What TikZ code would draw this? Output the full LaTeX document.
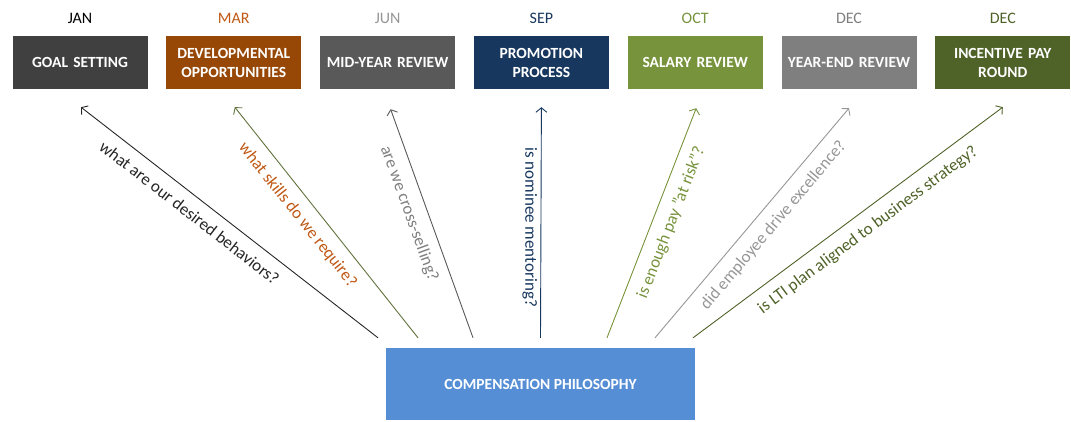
\documentclass[tikz,border=0pt]{standalone}
\usepackage{fontspec}
\setmainfont{Carlito}
\usetikzlibrary{arrows.meta, positioning}
\definecolor{charcoal}{RGB}{64, 64, 64}
\definecolor{rustbrown}{RGB}{151, 71, 6}
\definecolor{rustlight}{RGB}{192, 88, 20}
\definecolor{slategray}{RGB}{89, 89, 89}
\definecolor{lightgray}{RGB}{150, 150, 150}
\definecolor{navyblue}{RGB}{23, 55, 94}
\definecolor{olivegreen}{RGB}{119, 147, 60}
\definecolor{midgray}{RGB}{127, 127, 127}
\definecolor{darkolive}{RGB}{79, 98, 40}
\definecolor{skyblue}{RGB}{85, 142, 213}
\tikzset{
  >=Straight Barb,
  qarrow/.style={-{Straight Barb[length=4.5pt, width=11pt]}, line width=0.9pt}
}

\begin{document}
\begin{tikzpicture}[x=1pt, y=1pt,
    stage/.style={minimum width=135pt, minimum height=53pt, text width=133pt, inner sep=0pt,
      align=center, text=white, font=\fontsize{15.5}{19}\selectfont\bfseries},
    month/.style={font=\fontsize{16}{18}\selectfont, above=9pt of #1},
    question/.style={font=\fontsize{17}{20}\selectfont}]
    \useasboundingbox (0,0) rectangle (1071,421);
    % Etapas del ciclo anual
    \node (goal) [stage, fill=charcoal] at (80,358.5) {GOAL SETTING};
    \node (dev) [stage, fill=rustbrown, right=18.4pt of goal] {DEVELOPMENTAL\\OPPORTUNITIES};
    \node (mid) [stage, fill=slategray, right=18.4pt of dev] {MID-YEAR REVIEW};
    \node (promo) [stage, fill=navyblue, right=18.4pt of mid] {PROMOTION\\PROCESS};
    \node (salary) [stage, fill=olivegreen, right=18.4pt of promo] {SALARY REVIEW};
    \node (yend) [stage, fill=midgray, right=18.4pt of salary] {YEAR-END REVIEW};
    \node (incent) [stage, fill=darkolive, right=18.4pt of yend] {INCENTIVE PAY\\ROUND};
    % Meses
    \node [month=goal, text=black] {JAN};
    \node [month=dev, text=rustlight] {MAR};
    \node [month=mid, text=lightgray] {JUN};
    \node [month=promo, text=navyblue] {SEP};
    \node [month=salary, text=olivegreen] {OCT};
    \node [month=yend, text=midgray] {DEC};
    \node [month=incent, text=darkolive] {DEC};
    % Filosofía de compensación
    \node (phil) [fill=skyblue, minimum width=309pt, minimum height=72pt, text=white,
      font=\fontsize{15.5}{19}\selectfont\bfseries] at (540.5,37) {COMPENSATION PHILOSOPHY};
    % Arranque y punta de cada flecha
    \coordinate (s1) at ([xshift=-162.5pt, yshift=10pt]phil.north);
    \coordinate (s2) at ([xshift=-122.5pt, yshift=10pt]phil.north);
    \coordinate (s3) at ([xshift=-67.5pt, yshift=10pt]phil.north);
    \coordinate (s4) at ([yshift=10pt]phil.north);
    \coordinate (s5) at ([xshift=66.5pt, yshift=10pt]phil.north);
    \coordinate (s6) at ([xshift=114.5pt, yshift=10pt]phil.north);
    \coordinate (s7) at ([xshift=152.5pt, yshift=10pt]phil.north);
    \coordinate (t1) at ([xshift=1pt, yshift=-18pt]goal.south);
    \coordinate (t2) at ([xshift=1pt, yshift=-18pt]dev.south);
    \coordinate (t3) at ([xshift=3pt, yshift=-20pt]mid.south);
    \coordinate (t4) at ([yshift=-18pt]promo.south);
    \coordinate (t5) at ([xshift=1pt, yshift=-19pt]salary.south);
    \coordinate (t6) at ([yshift=-19pt]yend.south);
    \coordinate (t7) at ([yshift=-18pt]incent.south);
    % Preguntas
    \draw[qarrow, black!85] (s1) -- (t1)
      node[question, pos=0.6, sloped, below=7pt, text=black!85] {what are our desired behaviors?};
    \draw[qarrow, darkolive!90] (s2) -- (t2)
      node[question, pos=0.58, sloped, below=7pt, text=rustlight] {what skills do we require?};
    \draw[qarrow, slategray] (s3) -- (t3)
      node[question, pos=0.57, sloped, below=7pt, text=midgray] {are we cross-selling?};
    \draw[qarrow, navyblue] (s4) -- (t4)
      node[question, pos=0.51, rotate=-90, below=7pt, text=navyblue] {is nominee mentoring?};
    \draw[qarrow, olivegreen] (s5) -- (t5)
      node[question, pos=0.53, sloped, below=7pt, text=olivegreen] {is enough pay "at risk"?};
    \draw[qarrow, lightgray] (s6) -- (t6)
      node[question, pos=0.54, sloped, below=7pt, text=lightgray] {did employee drive excellence?};
    \draw[qarrow, darkolive] (s7) -- (t7)
      node[question, pos=0.53, sloped, below=7pt, text=darkolive] {is LTI plan aligned to business strategy?};
\end{tikzpicture}
\end{document}
